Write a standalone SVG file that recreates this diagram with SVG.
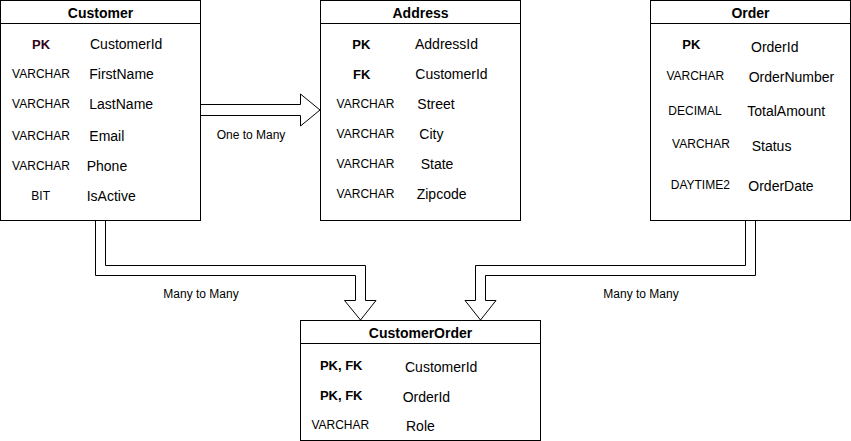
<svg xmlns="http://www.w3.org/2000/svg" width="851" height="441" viewBox="0 0 851 441">
<style>
.box{fill:#fff;stroke:#000;stroke-width:1}
.sep{stroke:#000;stroke-width:1}
.title{font-family:"Liberation Sans",Arial,sans-serif;font-size:14px;font-weight:bold;text-anchor:middle;fill:#000}
.key{font-family:"Liberation Sans",Arial,sans-serif;font-size:13px;font-weight:bold;text-anchor:middle;fill:#000}
.type{font-family:"Liberation Sans",Arial,sans-serif;font-size:12px;text-anchor:middle;fill:#000}
.name{font-family:"Liberation Sans",Arial,sans-serif;font-size:14px;fill:#000}
.lbl{font-family:"Liberation Sans",Arial,sans-serif;font-size:12px;text-anchor:middle;fill:#000}
.arrow{fill:#fff;stroke:#000;stroke-width:1;stroke-linejoin:miter}
</style>
<rect width="851" height="441" fill="#fff"/>
<g id="connectors">
<polygon class="arrow" points="200.5,104.5 300.5,104.5 300.5,94 320,110 300.5,126 300.5,115.5 200.5,115.5"/>
<polygon class="arrow" points="95.5,220.5 95.5,275.5 355.5,275.5 355.5,300.5 344.5,300.5 360.5,320 376,300.5 365.5,300.5 365.5,265.5 105.5,265.5 105.5,220.5"/>
<polygon class="arrow" points="745.5,220.5 745.5,265.5 475.5,265.5 475.5,300.5 465,300.5 480.5,320 496,300.5 485.5,300.5 485.5,275.5 755.5,275.5 755.5,220.5"/>
<text class="lbl" x="251" y="138.6">One to Many</text>
<text class="lbl" x="201" y="298.3">Many to Many</text>
<text class="lbl" x="641" y="298.3">Many to Many</text>
</g>
<g id="customer">
<rect class="box" x="0.5" y="0.5" width="200" height="220"/>
<line class="sep" x1="0.5" y1="23.5" x2="200.5" y2="23.5"/>
<text class="title" x="100.5" y="18.3">Customer</text>
<text class="key" x="41" y="49" fill="#33001A" style="fill:#33001A">PK</text>
<text class="name" x="90" y="49">CustomerId</text>
<text class="type" x="41" y="78.3">VARCHAR</text>
<text class="name" x="89.3" y="79">FirstName</text>
<text class="type" x="41" y="108.3">VARCHAR</text>
<text class="name" x="89.3" y="109">LastName</text>
<text class="type" x="41" y="140.3">VARCHAR</text>
<text class="name" x="89.3" y="141">Email</text>
<text class="type" x="41" y="170">VARCHAR</text>
<text class="name" x="86.7" y="170.7">Phone</text>
<text class="type" x="40.7" y="200">BIT</text>
<text class="name" x="86.7" y="200.7">IsActive</text>
</g>
<g id="address">
<rect class="box" x="320.5" y="0.5" width="200" height="220"/>
<line class="sep" x1="320.5" y1="23.5" x2="520.5" y2="23.5"/>
<text class="title" x="420.5" y="18.3">Address</text>
<text class="key" x="361.3" y="49">PK</text>
<text class="name" x="415" y="49">AddressId</text>
<text class="key" x="361.7" y="79">FK</text>
<text class="name" x="415.3" y="79">CustomerId</text>
<text class="type" x="365.5" y="108.3">VARCHAR</text>
<text class="name" x="417.3" y="109">Street</text>
<text class="type" x="365.5" y="138.3">VARCHAR</text>
<text class="name" x="419.3" y="139">City</text>
<text class="type" x="365.5" y="168.3">VARCHAR</text>
<text class="name" x="420.7" y="169">State</text>
<text class="type" x="365.5" y="198.3">VARCHAR</text>
<text class="name" x="416.7" y="199">Zipcode</text>
</g>
<g id="order">
<rect class="box" x="650.5" y="0.5" width="200" height="220"/>
<line class="sep" x1="650.5" y1="23.5" x2="850.5" y2="23.5"/>
<text class="title" x="750.5" y="18.3">Order</text>
<text class="key" x="691.3" y="49">PK</text>
<text class="name" x="751" y="51.7">OrderId</text>
<text class="type" x="695.3" y="80.3">VARCHAR</text>
<text class="name" x="748.7" y="81.7">OrderNumber</text>
<text class="type" x="695" y="115.3">DECIMAL</text>
<text class="name" x="747.3" y="116">TotalAmount</text>
<text class="type" x="701" y="148.3">VARCHAR</text>
<text class="name" x="751.7" y="151">Status</text>
<text class="type" x="700.3" y="188.6">DAYTIME2</text>
<text class="name" x="748.3" y="191">OrderDate</text>
</g>
<g id="customerorder">
<rect class="box" x="300.5" y="320.5" width="240" height="120"/>
<line class="sep" x1="300.5" y1="343.5" x2="540.5" y2="343.5"/>
<text class="title" x="420.5" y="338.3">CustomerOrder</text>
<text class="key" x="341.2" y="370.3">PK, FK</text>
<text class="name" x="405" y="371.7">CustomerId</text>
<text class="key" x="341.2" y="399.6">PK, FK</text>
<text class="name" x="402.7" y="401.7">OrderId</text>
<text class="type" x="340.3" y="429.3">VARCHAR</text>
<text class="name" x="406" y="431">Role</text>
</g>
</svg>
